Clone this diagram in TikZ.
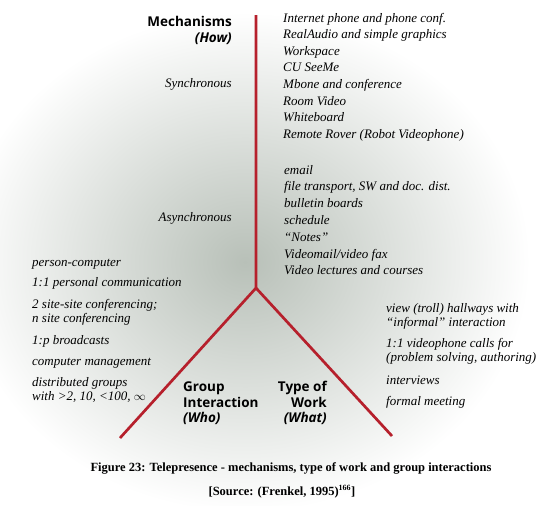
\documentclass[tikz,border=0pt]{standalone}
\usepackage{fontspec}
\setmainfont{Liberation Serif}
\setsansfont{Open Sans}

\definecolor{forkred}{RGB}{182,32,44}
\definecolor{haze}{RGB}{184,192,184}

\begin{document}
\begin{tikzpicture}[
    x=1pt,
    y=-1pt,
    fork/.style={
        draw=forkred,
        line width=2.7pt,
        line join=round
    },
    entry/.style={
        font=\fontsize{13}{15}\selectfont\itshape,
        anchor=base west,
        inner sep=0pt
    },
    mode/.style={
        font=\fontsize{13}{15}\selectfont\itshape,
        anchor=base east,
        inner sep=0pt
    },
    heading/.style={
        font=\fontsize{13.5}{15}\selectfont\sffamily\bfseries,
        inner sep=0pt
    },
    caption/.style={
        font=\fontsize{12.5}{15}\selectfont\bfseries,
        anchor=base,
        inner sep=0pt
    }
]

\useasboundingbox (0,0) rectangle (558,506);

% --------------------------------------------------
% Background haze
% --------------------------------------------------

\begin{scope}
    \clip (0,0) rectangle (558,506);
    \shade[inner color=haze, outer color=white]
        (245,262) ellipse (285 and 250);
\end{scope}

% --------------------------------------------------
% Fork
% --------------------------------------------------

\coordinate (top) at (256,15);
\coordinate (junction) at (256,288);
\coordinate (whoend) at (120,438);
\coordinate (whatend) at (392,436);

\draw[fork] (top) -- (junction) -- (whoend);
\draw[fork] (junction) -- (whatend);

% --------------------------------------------------
% Headings
% --------------------------------------------------

\node[heading, anchor=base east] (mech) at (232,27) {Mechanisms};
\node[heading, anchor=base east] (how) at (232,42) {\itshape (How)};

\node[heading, anchor=base west] (group) at (183,391) {Group};
\node[heading, anchor=base west] (interaction) at (183,407) {Interaction};
\node[heading, anchor=base west] (who) at (183,422) {\itshape (Who)};

\node[heading, anchor=base east] (type) at (327,391) {Type of};
\node[heading, anchor=base east] (work) at (327,407) {Work};
\node[heading, anchor=base east] (what) at (327,422) {\itshape (What)};

\node[mode] (sync) at (232,87) {Synchronous};
\node[mode] (async) at (232,221) {Asynchronous};

% --------------------------------------------------
% Mechanisms
% --------------------------------------------------

\foreach \txt [count=\i from 0] in {
    Internet phone and phone conf.,
    RealAudio and simple graphics,
    Workspace,
    CU SeeMe,
    Mbone and conference,
    Room Video,
    Whiteboard,
    Remote Rover (Robot Videophone)}
{
    \node[entry] (syncitem\i) at (283,22+16.6*\i) {\txt};
}

\foreach \txt [count=\i from 0] in {
    email,
    {file transport, SW and doc. dist.},
    bulletin boards,
    schedule,
    “Notes”,
    Videomail/video fax,
    Video lectures and courses}
{
    \node[entry] (asyncitem\i) at (284,174+16.8*\i) {\txt};
}

% --------------------------------------------------
% Group interaction
% --------------------------------------------------

\foreach \y/\txt [count=\i] in {
    266/person-computer,
    286/1:1 personal communication,
    308/2 site-site conferencing;,
    322/n site conferencing,
    344/1:p broadcasts,
    365/computer management,
    386/distributed groups,
    400/{with >2, 10, <100, $\infty$}}
{
    \node[entry] (whoitem\i) at (32,\y) {\txt};
}

% --------------------------------------------------
% Type of work
% --------------------------------------------------

\foreach \y/\txt [count=\i] in {
    312/view (troll) hallways with,
    326/“informal” interaction,
    347/1:1 videophone calls for,
    361/{(problem solving, authoring)},
    384/interviews,
    405/formal meeting}
{
    \node[entry] (whatitem\i) at (386,\y) {\txt};
}

% --------------------------------------------------
% Caption
% --------------------------------------------------

\node[caption] (figcap) at (291,471)
    {Figure 23: Telepresence - mechanisms, type of work and group interactions};
\node[caption] (source) at (282,495)
    {[Source: (Frenkel, 1995)\textsuperscript{\fontsize{8}{8}\selectfont 166}]};

\end{tikzpicture}
\end{document}
